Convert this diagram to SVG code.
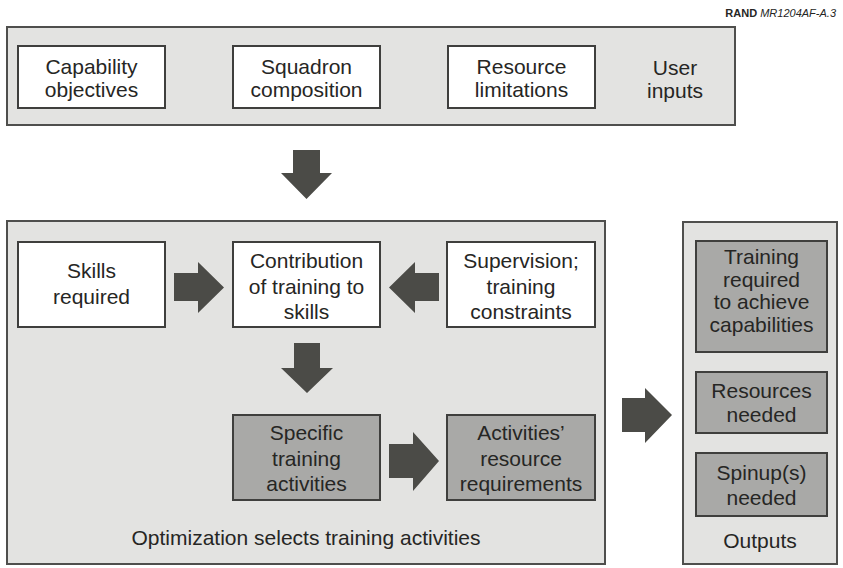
<svg xmlns="http://www.w3.org/2000/svg" width="843" height="568" viewBox="0 0 843 568">
<style>
.bg{fill:#ffffff}
.panel{fill:#e3e3e1;stroke:#4f4f4d;stroke-width:2}
.wbox{fill:#ffffff;stroke:#3f3f3d;stroke-width:2}
.gbox{fill:#a9a9a7;stroke:#3f3f3d;stroke-width:2}
.arr{fill:#4b4b47}
text{font-family:"Liberation Sans",Arial,sans-serif;font-size:21px;fill:#262624;text-anchor:middle}
.rand{font-size:11px;text-anchor:end}
</style>
<rect class="bg" x="0" y="0" width="843" height="568"/>
<text class="rand" x="836" y="17"><tspan font-weight="bold">RAND </tspan><tspan font-style="italic">MR1204AF-A.3</tspan></text>

<g id="user-inputs-panel">
<rect class="panel" x="7" y="27" width="728" height="98"/>
<text x="675" y="75">User</text>
<text x="675" y="98">inputs</text>
</g>
<g id="capability-objectives">
<rect class="wbox" x="18" y="46" width="147" height="62"/>
<text x="91.5" y="74">Capability</text>
<text x="91.5" y="97">objectives</text>
</g>
<g id="squadron-composition">
<rect class="wbox" x="233" y="46" width="147" height="62"/>
<text x="306.5" y="74">Squadron</text>
<text x="306.5" y="97">composition</text>
</g>
<g id="resource-limitations">
<rect class="wbox" x="448" y="46" width="147" height="62"/>
<text x="521.5" y="74">Resource</text>
<text x="521.5" y="97">limitations</text>
</g>

<g id="optimization-panel">
<rect class="panel" x="7" y="221" width="598" height="343"/>
<text x="306" y="545">Optimization selects training activities</text>
</g>
<g id="skills-required">
<rect class="wbox" x="18" y="242" width="147" height="85"/>
<text x="91.5" y="278">Skills</text>
<text x="91.5" y="304">required</text>
</g>
<g id="contribution">
<rect class="wbox" x="233" y="242" width="147" height="85"/>
<text x="306.5" y="268">Contribution</text>
<text x="306.5" y="294">of training to</text>
<text x="306.5" y="319">skills</text>
</g>
<g id="supervision">
<rect class="wbox" x="447" y="242" width="148" height="85"/>
<text x="521" y="268">Supervision;</text>
<text x="521" y="294">training</text>
<text x="521" y="319">constraints</text>
</g>
<g id="specific-training">
<rect class="gbox" x="233" y="415" width="147" height="85"/>
<text x="306.5" y="440">Specific</text>
<text x="306.5" y="466">training</text>
<text x="306.5" y="491">activities</text>
</g>
<g id="activities-resources">
<rect class="gbox" x="447" y="415" width="148" height="85"/>
<text x="521" y="440">Activities’</text>
<text x="521" y="466">resource</text>
<text x="521" y="491">requirements</text>
</g>

<g id="outputs-panel">
<rect class="panel" x="683" y="222" width="154" height="342"/>
<text x="760" y="548">Outputs</text>
</g>
<g id="training-required">
<rect class="gbox" x="696" y="241" width="131" height="111"/>
<text x="761.5" y="264">Training</text>
<text x="761.5" y="287">required</text>
<text x="761.5" y="309">to achieve</text>
<text x="761.5" y="332">capabilities</text>
</g>
<g id="resources-needed">
<rect class="gbox" x="696" y="372" width="131" height="61"/>
<text x="761.5" y="398">Resources</text>
<text x="761.5" y="422">needed</text>
</g>
<g id="spinups-needed">
<rect class="gbox" x="696" y="453" width="131" height="63"/>
<text x="761.5" y="480">Spinup(s)</text>
<text x="761.5" y="505">needed</text>
</g>

<g id="connectors">
<polygon class="arr" points="293,150 320,150 320,173 332,173 306.5,199 281,173 293,173"/>
<polygon class="arr" points="174,273 198,273 198,262 224,287.5 198,313 198,301 174,301"/>
<polygon class="arr" points="439,273 415,273 415,262 389,287.5 415,313 415,301 439,301"/>
<polygon class="arr" points="294,343 320,343 320,368 333,368 307,393 281,368 294,368"/>
<polygon class="arr" points="389,444 413,444 413,432 439,461 413,491 413,478 389,478"/>
<polygon class="arr" points="622,398 645,398 645,388 672,415 645,443 645,432 622,432"/>
</g>
</svg>
